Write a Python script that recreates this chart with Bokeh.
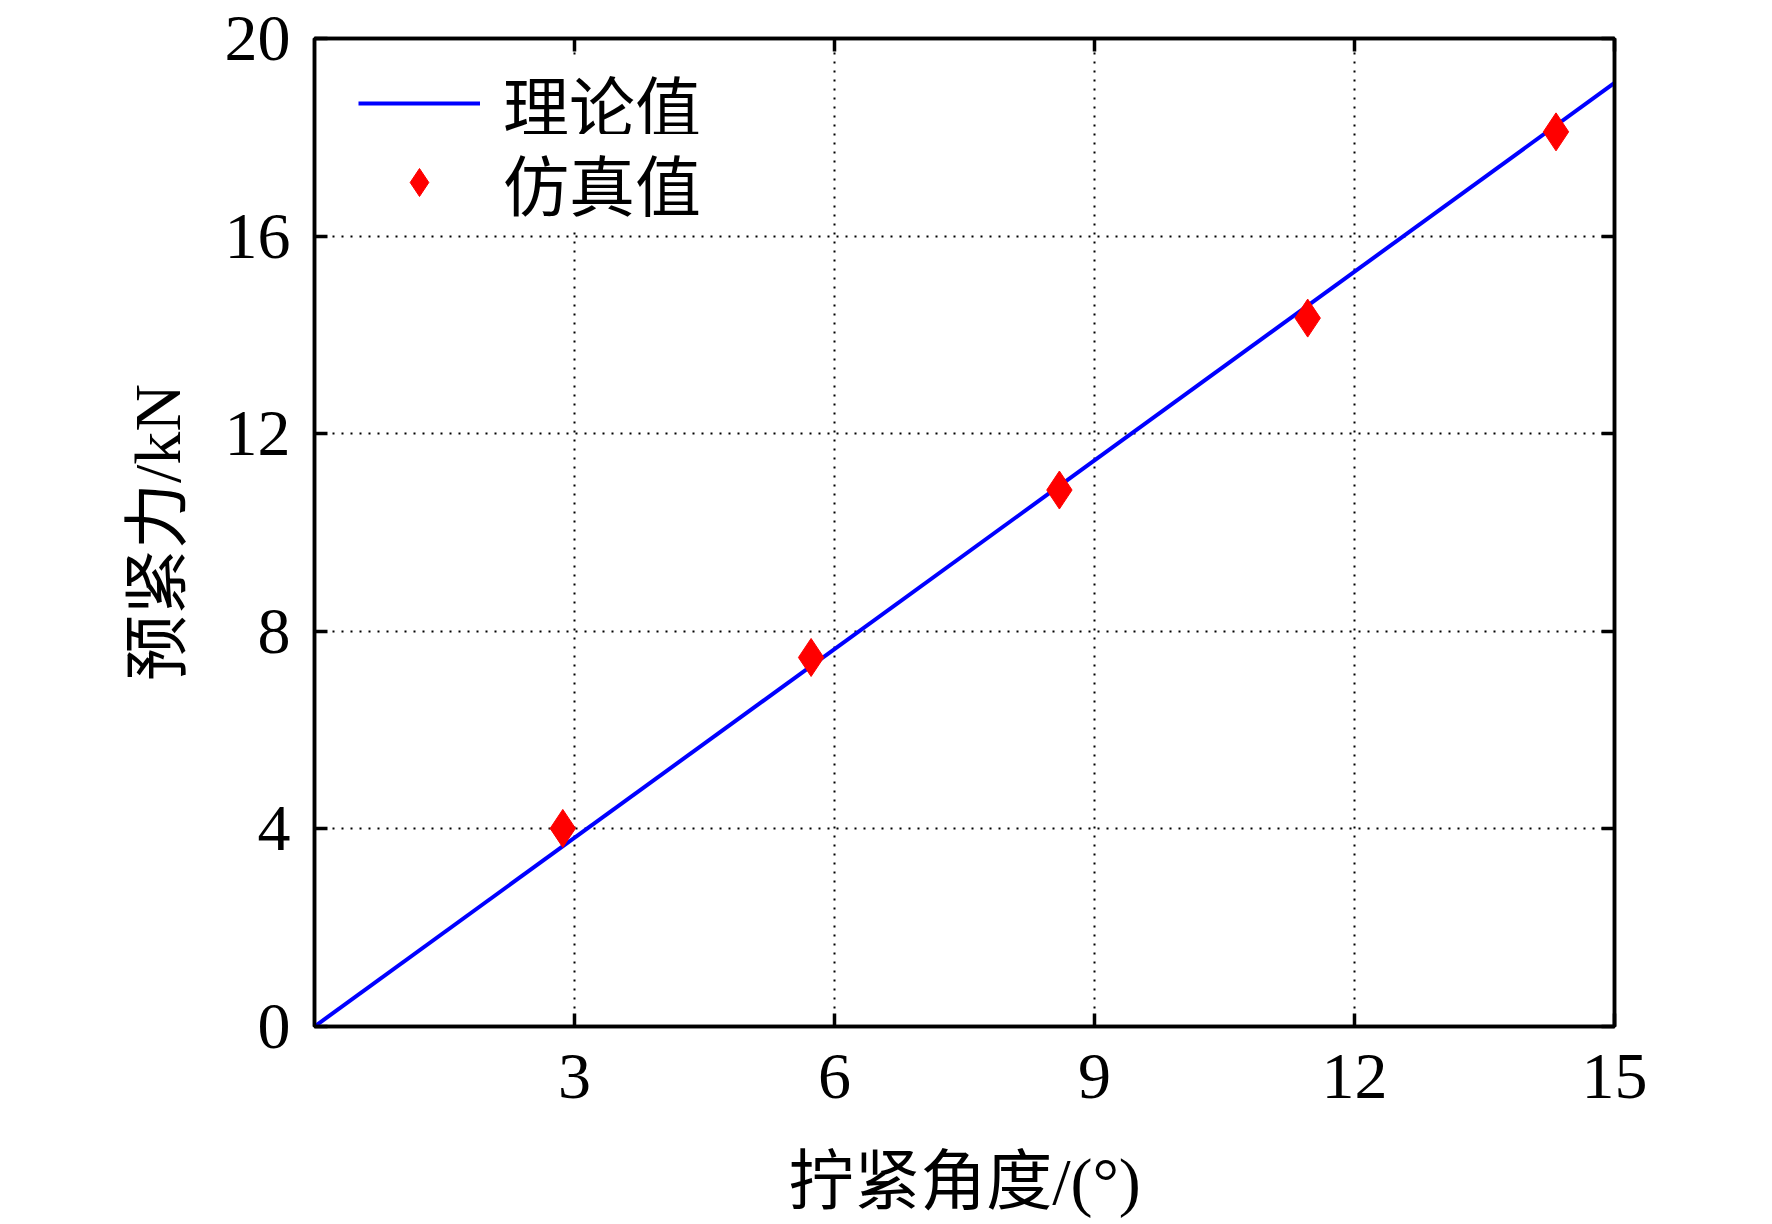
from bokeh.plotting import figure
from bokeh.models import LinearAxis, FixedTicker, Range1d, Legend, LegendItem
from bokeh.embed import file_html
from bokeh.resources import INLINE

# ---- data ----
theory_angle = [0.0, 15.0]
theory_force = [0.0, 19.1]
sim_angle = [2.865, 5.73, 8.595, 11.46, 14.325]
sim_force = [4.01, 7.47, 10.86, 14.34, 18.11]
x_ticks = [3, 6, 9, 12, 15]
y_ticks = [0, 4, 8, 12, 16, 20]
x_title = "拧紧角度/(°)"
y_title = "预紧力/kN"
legend_labels = ["理论值", "仿真值"]

FONT = "Liberation Serif, Noto Sans CJK SC"
FS = "66px"
FRAME_H = 988

p = figure(frame_width=1300, frame_height=FRAME_H,
           x_range=Range1d(0, 15), y_range=Range1d(0, 20),
           output_backend="svg", toolbar_location=None,
           min_border_left=314, min_border_top=38,
           min_border_right=140, min_border_bottom=182,
           background_fill_color="white", border_fill_color="white")
p.outline_line_color = "black"
p.outline_line_width = 3.5

def style_axis(ax, labels=True):
    ax.axis_line_color = "black"
    ax.axis_line_width = 3.5
    ax.major_tick_line_color = "black"
    ax.major_tick_line_width = 3.5
    ax.major_tick_in = 13
    ax.major_tick_out = 0
    ax.minor_tick_line_color = None
    ax.major_label_text_font = FONT
    ax.axis_label_text_font = FONT
    ax.axis_label_text_font_style = "normal"
    ax.axis_label_text_font_size = FS
    ax.axis_label_text_color = "black"
    if labels:
        ax.major_label_text_font_size = FS
        ax.major_label_text_color = "black"
    else:
        ax.major_label_text_font_size = "1px"
        ax.major_label_text_color = None
        ax.major_label_standoff = 0

xa = p.xaxis[0]
xa.ticker = FixedTicker(ticks=x_ticks)
style_axis(xa)
xa.major_label_standoff = 28
xa.axis_label = x_title
xa.axis_label_standoff = 44

ya = p.yaxis[0]
ya.ticker = FixedTicker(ticks=y_ticks)
style_axis(ya)
ya.major_label_standoff = 24
ya.axis_label = y_title
ya.axis_label_standoff = 28

top = LinearAxis(ticker=FixedTicker(ticks=x_ticks))
style_axis(top, labels=False)
p.add_layout(top, "above")
right = LinearAxis(ticker=FixedTicker(ticks=y_ticks))
style_axis(right, labels=False)
p.add_layout(right, "right")

p.xgrid.ticker = FixedTicker(ticks=x_ticks[:-1])
p.ygrid.ticker = FixedTicker(ticks=y_ticks[1:-1])
for g in (p.xgrid, p.ygrid):
    g.grid_line_color = "black"
    g.grid_line_width = 2
    g.grid_line_dash = "2 7"

r_line = p.line(theory_angle, theory_force, line_color="#0000FF", line_width=4)
r_sc = p.scatter(sim_angle, sim_force, marker="diamond", size=38,
                 fill_color="#FF0000", line_color="#FF0000")

def make_legend(label, rend, loc):
    return Legend(items=[LegendItem(label=label, renderers=[rend])],
                  location=loc, margin=0, padding=0, spacing=0,
                  glyph_width=122, glyph_height=70, label_standoff=23,
                  label_text_font=FONT, label_text_font_size=FS,
                  label_text_color="black",
                  border_line_color=None, background_fill_color="white",
                  background_fill_alpha=1.0)

p.add_layout(make_legend(legend_labels[0], r_line, (44, 875)))
p.add_layout(make_legend(legend_labels[1], r_sc, (44, 796)))

open("out.html", "w").write(file_html(p, INLINE))
